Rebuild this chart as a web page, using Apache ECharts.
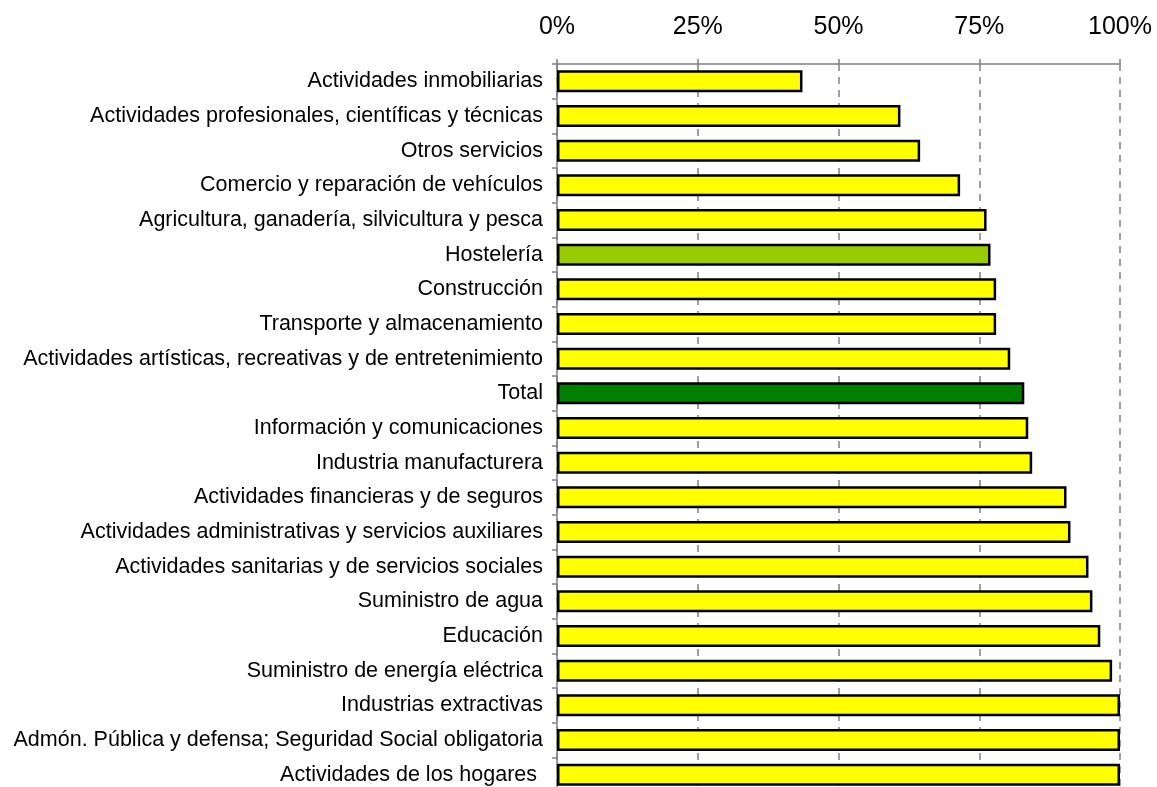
<!DOCTYPE html>
<html>
<head>
<meta charset="utf-8">
<script src="https://cdn.jsdelivr.net/npm/echarts@6/dist/echarts.min.js"></script>
<style>html,body{margin:0;padding:0;background:#fff;overflow:hidden}#c{width:1157px;height:800px}</style>
</head>
<body>
<div id="c"></div>
<script>
const categories = [
  "Actividades inmobiliarias",
  "Actividades profesionales, científicas y técnicas",
  "Otros servicios",
  "Comercio y reparación de vehículos",
  "Agricultura, ganadería, silvicultura y pesca",
  "Hostelería",
  "Construcción",
  "Transporte y almacenamiento",
  "Actividades artísticas, recreativas y de entretenimiento",
  "Total",
  "Información y comunicaciones",
  "Industria manufacturera",
  "Actividades financieras y de seguros",
  "Actividades administrativas y servicios auxiliares",
  "Actividades sanitarias y de servicios sociales",
  "Suministro de agua",
  "Educación",
  "Suministro de energía eléctrica",
  "Industrias extractivas",
  "Admón. Pública y defensa; Seguridad Social obligatoria",
  "Actividades de los hogares "
];
const values = [43.6, 61.0, 64.5, 71.6, 76.3, 77.0, 78.0, 78.0, 80.5, 83.0, 83.7, 84.4, 90.5, 91.2, 94.4, 95.1, 96.5, 98.6, 100, 100, 100];
const highlight = { "Hostelería": "#99CC00", "Total": "#008000" };
const baseColor = "#FFFF00";

const chart = echarts.init(document.getElementById('c'), null, { renderer: 'canvas' });
chart.setOption({
  animation: false,
  grid: { left: 557, right: 37, top: 64, height: 728, containLabel: false },
  xAxis: {
    type: 'value', position: 'top', min: 0, max: 100, interval: 25,
    axisLine: { show: true, lineStyle: { color: '#808080', width: 1.5 } },
    axisTick: { show: true, length: 5, lineStyle: { color: '#808080', width: 1.5 } },
    axisLabel: { formatter: '{value}%', fontFamily: 'Liberation Sans, Arial, sans-serif', fontSize: 25, color: '#000', margin: 24 },
    splitLine: { show: true, lineStyle: { color: '#808080', type: [7, 6], width: 1.5 } }
  },
  yAxis: {
    type: 'category', inverse: true, data: categories,
    axisLine: { show: true, lineStyle: { color: '#808080', width: 1.5 } },
    axisTick: { show: true, length: 5, lineStyle: { color: '#808080', width: 1.5 } },
    axisLabel: { fontFamily: 'Liberation Sans, Arial, sans-serif', fontSize: 21.5, color: '#000', margin: 14 },
    splitLine: { show: false }
  },
  series: [{
    type: 'bar',
    barWidth: 22,
    data: values.map((v, i) => ({
      value: v,
      itemStyle: { color: highlight[categories[i]] || baseColor }
    })),
    itemStyle: { borderColor: '#000', borderWidth: 2.5 }
  }]
});
</script>
</body>
</html>
